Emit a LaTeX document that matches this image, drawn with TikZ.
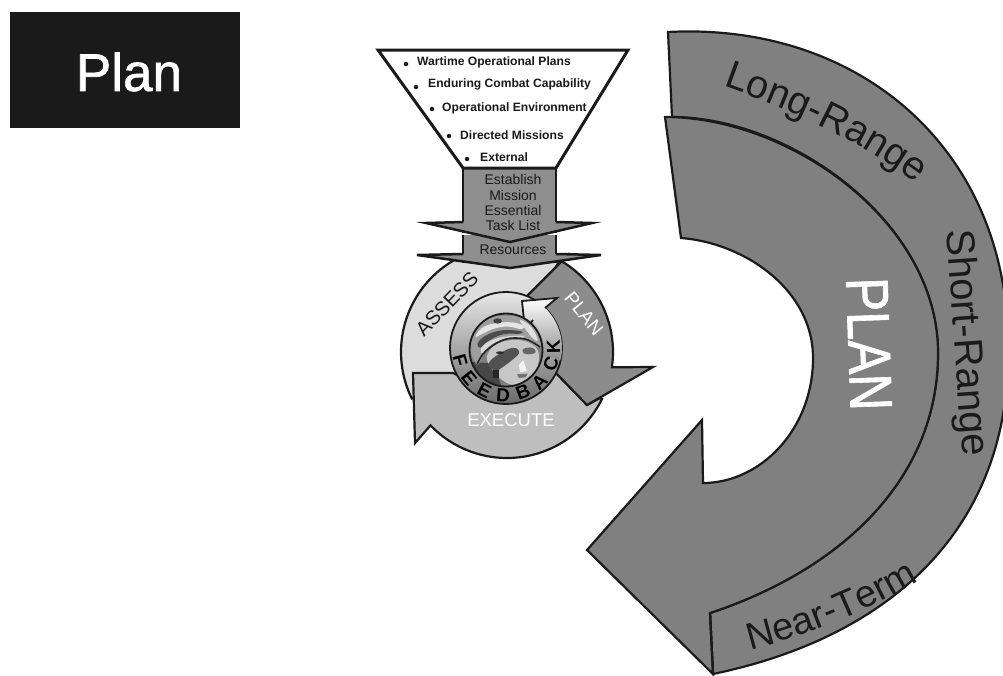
\documentclass[tikz,border=0pt]{standalone}
\usepackage{fontspec}
\usepackage{graphicx}
\setmainfont{Liberation Sans}
\newfontfamily\heavyfont[FakeBold=1.2]{Liberation Sans}
\usetikzlibrary{decorations.text}
\newcommand{\fsz}[1]{\fontsize{#1}{#1}\selectfont}
\definecolor{ink}{HTML}{1A1A1A}
\definecolor{bandgrey}{HTML}{808080}
\definecolor{boxgrey}{HTML}{8E8E8E}
\definecolor{assessgrey}{HTML}{DCDCDC}
\definecolor{executegrey}{HTML}{BEBEBE}
\definecolor{plangrey}{HTML}{8C8C8C}
\tikzset{
  bigshape/.style={fill=bandgrey,draw=ink,line width=2.2pt,line join=miter},
  cyc/.style={draw=ink,line width=2.2pt,line join=miter},
  funneltext/.style={font=\bfseries\fsz{12.1},text=ink,anchor=west,inner sep=0pt},
  boxtext/.style={font=\fsz{14},text=ink,inner sep=0pt},
  bulletdot/.style={circle,fill=ink,inner sep=0pt,minimum size=4.5pt},
  ringletter/.style={font=\bfseries\fsz{19},text=black,inner sep=0pt},
  cycletext/.style={inner sep=0pt},
}
\begin{document}
\begin{tikzpicture}[x=1pt,y=-1pt]
\useasboundingbox (0,0) rectangle (1003,675);
% title box
\fill[ink] (10,12) rectangle (240,128);
\node[font=\heavyfont\fsz{53},text=white,inner sep=0pt] (title) at (129,72) {Plan};

% big arrow
\clip (0,0) rectangle (1003,675);
\draw[bigshape] (668,32) .. controls (860,22) and (1008,150) .. (1008,345)
   .. controls (1012,520) and (900,635) .. (713,674)
   -- (710,613)
   .. controls (840,570) and (938,480) .. (938,353)
   .. controls (938,222) and (790,117) .. (672,117)
   -- cycle;
\draw[bigshape] (665,117) .. controls (790,117) and (938,222) .. (938,353)
   .. controls (938,480) and (840,570) .. (710,613)
   -- (713,674) -- (587,550) -- (702,420) -- (703,483)
   .. controls (760,483) and (813,430) .. (813,358)
   .. controls (813,290) and (745,243) .. (681,238)
   -- cycle;
\draw[draw=ink,line width=2.2pt] (710,613) -- (713,674);
\path[decorate,decoration={text along path,text={|\fsz{39.5}\color{ink}|Long-Range},text align=left}]
   (723,86) .. controls (785,108) and (860,140) .. (920,186);
\path[decorate,decoration={text along path,text={|\fsz{38}\color{ink}|Near-Term},text align=left}]
   (750,650) .. controls (810,635) and (870,610) .. (920,580);
\node[font=\fsz{40},text=ink,rotate=-86,inner sep=0pt] (short) at (965,343) {Short-Range};
\node[font=\heavyfont\fsz{60},text=white,rotate=-88,inner sep=0pt] (bigplan) at (869,344) {\scalebox{.85}[1]{PLAN}};

% cycle: assess
\draw[cyc,fill=assessgrey] plot[domain=300:154,samples=60] ({507+106*cos(\x)},{352+106*sin(\x)}) -- (507,348) -- cycle;
% execute
\draw[cyc,fill=executegrey] (413,373) -- (453,373) -- (507,400) -- (555,372) -- (587,405) -- (600,398)
   -- plot[domain=26.3:136.2,samples=50] ({507+106*cos(\x)},{352+106*sin(\x)}) -- (415,443) -- cycle;
% plan
\draw[cyc,fill=plangrey] (563,260) -- plot[domain=-58.7:8.3,samples=40] ({507+106*cos(\x)},{352+106*sin(\x)})
   -- (653,367) -- (587,405) -- (555,372) -- (507,348) -- (523,300) -- cycle;
% ring
\path[top color=white!90!black,bottom color=black!58!white]
   (506,348) circle[radius=56];
\draw[draw=ink,line width=1.8pt] (506,348) circle[radius=56];
% feedback arrow
\path[top color=white,bottom color=black!45!white]
   (522,301) -- (557,298) -- (545,308)
   -- plot[domain=-45.7:12,samples=25] ({506+56*cos(\x)},{348+56*sin(\x)})
   -- plot[domain=12:-50,samples=25] ({506+38*cos(\x)},{348+38*sin(\x)})
   -- (525,330) -- cycle;
\draw[draw=ink,line width=1.8pt,line join=miter] (533,320) -- (525,330) -- (522,301) -- (557,298) -- (545,308);
% photo
\begin{scope}
\clip (506,350) circle[radius=36.5];
\fill[black!50] (440,300) rectangle (570,400);
\begin{scope}[shift={(445,285)},x=.3333pt,y=-.3333pt]
\fill[black!72] (60,230) -- (145,235) -- (175,320) -- (60,320) -- cycle;
\fill[black!22] plot[smooth cycle,tension=.6] coordinates {(125,215)(150,180)(200,165)(245,170)(278,195)(280,235)(265,272)(232,300)(190,296)(155,270)(135,242)};
\fill[black!68] plot[smooth cycle,tension=.6] coordinates {(132,236)(150,215)(190,192)(215,190)(222,205)(205,222)(175,245)(150,258)};
\fill[black!60] plot[smooth cycle,tension=.7] coordinates {(235,192)(262,188)(272,202)(250,208)(236,204)};
\fill[black!82] (165,203) ellipse[x radius=12,y radius=4];
\fill[black!5] (222,240) -- (235,225) -- (246,258) -- (225,262) -- cycle;
\fill[black!55] (216,268) -- (248,266) -- (242,277) -- (222,279) -- cycle;
\fill[black!85] (145,255) rectangle (163,280);
\fill[black!38] plot[smooth cycle,tension=.6] coordinates {(78,195)(85,140)(115,105)(170,92)(235,100)(272,135)(288,178)(272,185)(235,162)(190,160)(150,172)(120,198)(100,238)(85,220)};
\fill[black!10] plot[smooth cycle,tension=.7] coordinates {(92,155)(112,128)(150,115)(200,112)(235,122)(228,132)(190,125)(150,130)(115,145)};
\fill[black!70] plot[smooth cycle,tension=.7] coordinates {(98,175)(122,152)(170,136)(225,138)(226,146)(175,148)(130,168)(106,188)};
\fill[black!12] plot[smooth cycle,tension=.7] coordinates {(225,105)(258,125)(278,165)(262,158)(240,130)};
\fill[black!15] plot[smooth cycle,tension=.7] coordinates {(108,190)(135,168)(180,155)(230,152)(232,158)(180,162)(140,178)(114,205)};
\draw[black!85,line width=1.6pt] plot[smooth,tension=.6] coordinates {(97,236)(122,198)(180,163)(240,162)(285,186)};
\fill[black!75] (158,108) ellipse[x radius=13,y radius=8];
\end{scope}
\end{scope}
\draw[draw=ink,line width=1.8pt] (506,350) circle[radius=36.5];
% feedback letters
\foreach \ch/\ang/\nm in {F/-75/a,E/-51/b,E/-27/c,D/-3.5/d,B/21/e,A/45/f,C/71/g,K/91/h}{
  \node[ringletter,rotate=\ang] (fb\nm) at ({506+47.5*sin(\ang)},{348+47.5*cos(\ang)}) {\ch};
}
\node[cycletext,font=\fsz{20},text=ink,rotate=46] (assess) at (447,304) {ASSESS};
\node[cycletext,font=\fsz{19},text=white,rotate=-51] (planc) at (584,314) {PLAN};
\node[font=\fsz{18.5},text=white,inner sep=0pt] (exec) at (511,420) {EXECUTE};

% stem with arrows
\draw[draw=ink,fill=boxgrey,line width=2.5pt] (463,235) -- (463,262) -- (556,262) -- (556,235);
\draw[draw=ink,fill=boxgrey,line width=2.5pt,line join=miter] (463,254) -- (417,255) -- (510,268) -- (601,255) -- (556,254);
\draw[draw=ink,fill=boxgrey,line width=2.5pt] (463,168) -- (463,232) -- (556,232) -- (556,168);
\draw[draw=ink,fill=boxgrey,line width=2.5pt,line join=miter] (463,222) -- (426,223) -- (510,242) -- (592,223) -- (556,222);
\fill[boxgrey] (464.5,244) rectangle (554.5,254.5);
\fill[boxgrey] (464.5,170) rectangle (554.5,223.5);
% funnel
\draw[draw=ink,fill=white,line width=3pt,line join=miter] (378,50) -- (628,50) -- (556,168) -- (463,168) -- cycle;
\foreach \nm/\bx/\by/\tx/\ty/\lab in {
  a/406/64/417/62/{Wartime Operational Plans},
  b/416/87/428/84/{Enduring Combat Capability},
  c/432/109/442/108/{Operational Environment},
  d/449/136/460/135/{Directed Missions},
  e/467/159/480/157/{External}}{
  \node[bulletdot] (dot\nm) at (\bx,\by) {};
  \node[funneltext] (item\nm) at (\tx,\ty) {\lab};
}
\node[boxtext] (t1) at (513,179) {Establish};
\node[boxtext] (t2) at (513,195) {Mission};
\node[boxtext] (t3) at (513,210) {Essential};
\node[boxtext] (t4) at (513,225) {Task List};
\node[boxtext] (t5) at (513,250) {Resources};
\end{tikzpicture}
\end{document}
